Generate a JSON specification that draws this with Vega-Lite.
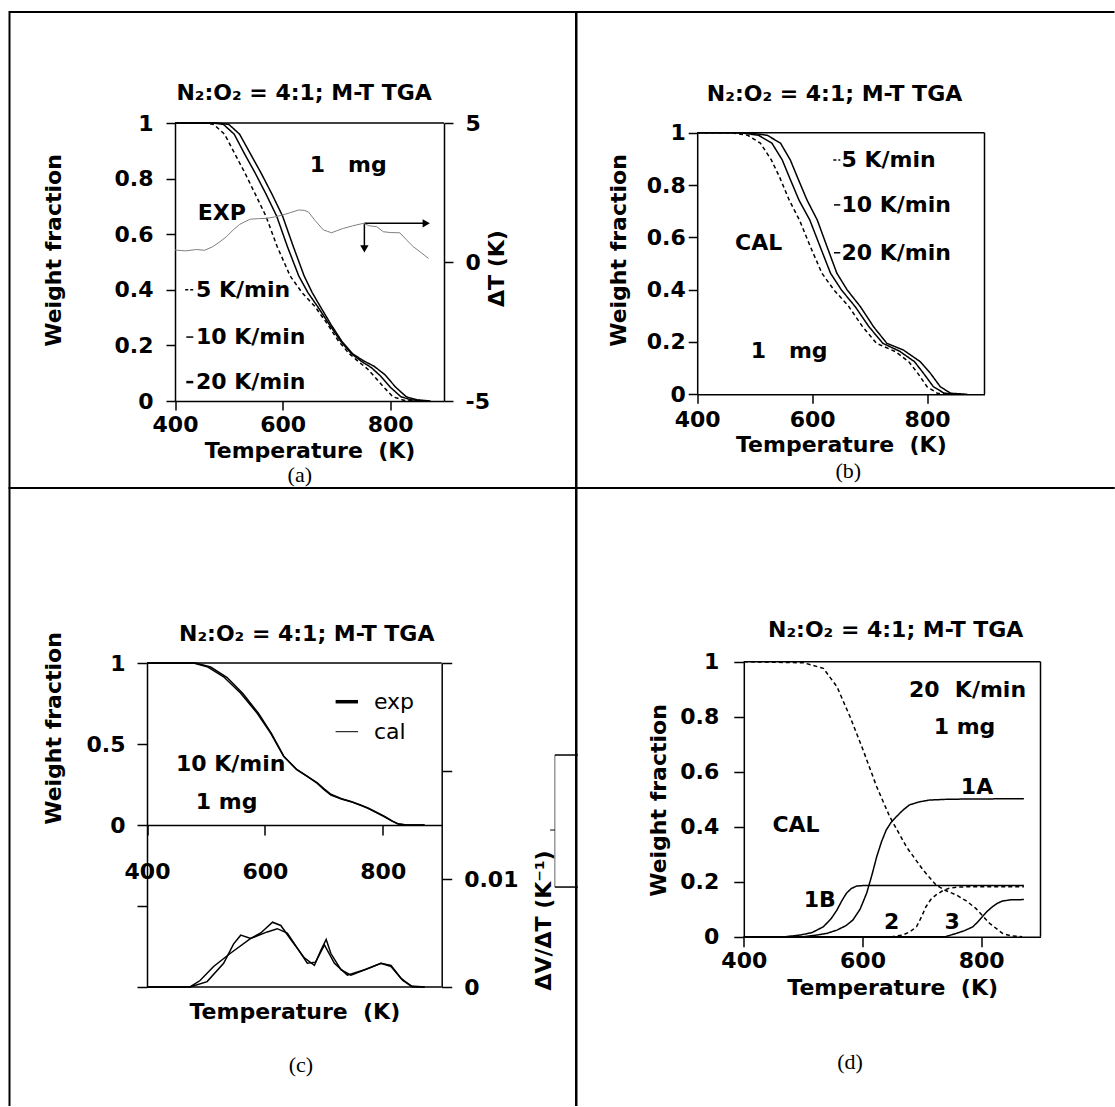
{
"$schema": "https://vega.github.io/schema/vega-lite/v6.json",
"padding": {"left": 8.5, "top": 11, "right": 0, "bottom": 0},
"columns": 2, "spacing": 0, "bounds": "flush",
"config": {
  "font": "DejaVu Sans",
  "view": {"stroke": null},
  "axis": {"grid": false, "domainColor": "black", "domainWidth": 1.5, "tickColor": "black", "tickWidth": 1.5, "tickSize": 9,
    "labelColor": "black", "labelFont": "DejaVu Sans", "labelFontSize": 22, "labelFontWeight": "bold", "labelFlush": false, "labelOverlap": false, "labelBound": false,
    "titleColor": "black", "titleFont": "DejaVu Sans", "titleFontSize": 22, "titleFontWeight": "bold", "titleAlign": "center", "titleBaseline": "middle"},
  "text": {"font": "DejaVu Sans", "fontSize": 22, "fontWeight": "bold", "color": "black", "align": "center", "baseline": "middle"},
  "line": {"color": "black"},
  "rule": {"color": "black", "strokeWidth": 1.5}
},
"datasets": {
  "a_tga": [
    {"rate":"20 K/min","T":400,"W":1},{"rate":"20 K/min","T":480,"W":1},{"rate":"20 K/min","T":500,"W":0.995},{"rate":"20 K/min","T":520,"W":0.96},{"rate":"20 K/min","T":540,"W":0.89},{"rate":"20 K/min","T":560,"W":0.82},{"rate":"20 K/min","T":580,"W":0.745},{"rate":"20 K/min","T":600,"W":0.665},{"rate":"20 K/min","T":620,"W":0.555},{"rate":"20 K/min","T":640,"W":0.45},{"rate":"20 K/min","T":655,"W":0.39},{"rate":"20 K/min","T":670,"W":0.34},{"rate":"20 K/min","T":690,"W":0.275},{"rate":"20 K/min","T":710,"W":0.215},{"rate":"20 K/min","T":730,"W":0.17},{"rate":"20 K/min","T":750,"W":0.145},{"rate":"20 K/min","T":770,"W":0.125},{"rate":"20 K/min","T":790,"W":0.095},{"rate":"20 K/min","T":810,"W":0.05},{"rate":"20 K/min","T":830,"W":0.015},{"rate":"20 K/min","T":850,"W":0.004},{"rate":"20 K/min","T":875,"W":0},
    {"rate":"10 K/min","T":400,"W":1},{"rate":"10 K/min","T":470,"W":1},{"rate":"10 K/min","T":490,"W":0.995},{"rate":"10 K/min","T":510,"W":0.96},{"rate":"10 K/min","T":529,"W":0.89},{"rate":"10 K/min","T":549,"W":0.82},{"rate":"10 K/min","T":569,"W":0.745},{"rate":"10 K/min","T":589,"W":0.665},{"rate":"10 K/min","T":609,"W":0.555},{"rate":"10 K/min","T":630,"W":0.45},{"rate":"10 K/min","T":647,"W":0.39},{"rate":"10 K/min","T":665,"W":0.34},{"rate":"10 K/min","T":687,"W":0.275},{"rate":"10 K/min","T":708,"W":0.215},{"rate":"10 K/min","T":728,"W":0.17},{"rate":"10 K/min","T":747,"W":0.142},{"rate":"10 K/min","T":765,"W":0.12},{"rate":"10 K/min","T":782,"W":0.09},{"rate":"10 K/min","T":800,"W":0.05},{"rate":"10 K/min","T":820,"W":0.015},{"rate":"10 K/min","T":840,"W":0.004},{"rate":"10 K/min","T":865,"W":0},
    {"rate":"5 K/min","T":400,"W":1},{"rate":"5 K/min","T":455,"W":1},{"rate":"5 K/min","T":472,"W":0.995},{"rate":"5 K/min","T":492,"W":0.96},{"rate":"5 K/min","T":511,"W":0.89},{"rate":"5 K/min","T":530,"W":0.82},{"rate":"5 K/min","T":549,"W":0.745},{"rate":"5 K/min","T":569,"W":0.665},{"rate":"5 K/min","T":590,"W":0.555},{"rate":"5 K/min","T":614,"W":0.45},{"rate":"5 K/min","T":636,"W":0.39},{"rate":"5 K/min","T":660,"W":0.34},{"rate":"5 K/min","T":684,"W":0.275},{"rate":"5 K/min","T":704,"W":0.215},{"rate":"5 K/min","T":724,"W":0.17},{"rate":"5 K/min","T":742,"W":0.14},{"rate":"5 K/min","T":758,"W":0.115},{"rate":"5 K/min","T":772,"W":0.085},{"rate":"5 K/min","T":788,"W":0.05},{"rate":"5 K/min","T":805,"W":0.015},{"rate":"5 K/min","T":825,"W":0.003},{"rate":"5 K/min","T":850,"W":0}
  ],
  "a_dt": [
    {"T":400,"dT":0.43},{"T":420,"dT":0.4},{"T":440,"dT":0.45},{"T":455,"dT":0.42},{"T":470,"dT":0.55},{"T":480,"dT":0.68},{"T":495,"dT":0.9},{"T":508,"dT":1.15},{"T":520,"dT":1.35},{"T":530,"dT":1.45},{"T":540,"dT":1.54},{"T":555,"dT":1.56},{"T":570,"dT":1.57},{"T":585,"dT":1.62},{"T":600,"dT":1.69},{"T":615,"dT":1.78},{"T":630,"dT":1.87},{"T":640,"dT":1.86},{"T":648,"dT":1.8},{"T":660,"dT":1.5},{"T":676,"dT":1.15},{"T":684,"dT":1.1},{"T":691,"dT":1.05},{"T":700,"dT":1.12},{"T":713,"dT":1.21},{"T":730,"dT":1.3},{"T":750,"dT":1.39},{"T":762,"dT":1.3},{"T":775,"dT":1.27},{"T":787,"dT":1.09},{"T":800,"dT":1.06},{"T":818,"dT":1.05},{"T":830,"dT":0.8},{"T":843,"dT":0.55},{"T":858,"dT":0.33},{"T":871,"dT":0.13}
  ],
  "b_tga": [
    {"rate":"20 K/min","T":400,"W":1},{"rate":"20 K/min","T":470,"W":1},{"rate":"20 K/min","T":493,"W":0.999},{"rate":"20 K/min","T":522,"W":0.99},{"rate":"20 K/min","T":545,"W":0.96},{"rate":"20 K/min","T":562,"W":0.896},{"rate":"20 K/min","T":574,"W":0.832},{"rate":"20 K/min","T":591,"W":0.743},{"rate":"20 K/min","T":609,"W":0.666},{"rate":"20 K/min","T":626,"W":0.564},{"rate":"20 K/min","T":643,"W":0.463},{"rate":"20 K/min","T":661,"W":0.399},{"rate":"20 K/min","T":684,"W":0.335},{"rate":"20 K/min","T":707,"W":0.258},{"rate":"20 K/min","T":730,"W":0.195},{"rate":"20 K/min","T":759,"W":0.169},{"rate":"20 K/min","T":788,"W":0.125},{"rate":"20 K/min","T":806,"W":0.08},{"rate":"20 K/min","T":823,"W":0.029},{"rate":"20 K/min","T":841,"W":0.004},{"rate":"20 K/min","T":870,"W":0},
    {"rate":"10 K/min","T":400,"W":1},{"rate":"10 K/min","T":460,"W":1},{"rate":"10 K/min","T":478,"W":0.999},{"rate":"10 K/min","T":507,"W":0.99},{"rate":"10 K/min","T":530,"W":0.96},{"rate":"10 K/min","T":548,"W":0.896},{"rate":"10 K/min","T":560,"W":0.832},{"rate":"10 K/min","T":577,"W":0.743},{"rate":"10 K/min","T":596,"W":0.666},{"rate":"10 K/min","T":614,"W":0.564},{"rate":"10 K/min","T":632,"W":0.463},{"rate":"10 K/min","T":651,"W":0.399},{"rate":"10 K/min","T":675,"W":0.335},{"rate":"10 K/min","T":699,"W":0.258},{"rate":"10 K/min","T":723,"W":0.195},{"rate":"10 K/min","T":752,"W":0.165},{"rate":"10 K/min","T":778,"W":0.125},{"rate":"10 K/min","T":794,"W":0.08},{"rate":"10 K/min","T":811,"W":0.029},{"rate":"10 K/min","T":830,"W":0.004},{"rate":"10 K/min","T":860,"W":0},
    {"rate":"5 K/min","T":400,"W":1},{"rate":"5 K/min","T":445,"W":1},{"rate":"5 K/min","T":462,"W":0.999},{"rate":"5 K/min","T":488,"W":0.99},{"rate":"5 K/min","T":510,"W":0.96},{"rate":"5 K/min","T":529,"W":0.896},{"rate":"5 K/min","T":543,"W":0.832},{"rate":"5 K/min","T":560,"W":0.743},{"rate":"5 K/min","T":578,"W":0.666},{"rate":"5 K/min","T":597,"W":0.564},{"rate":"5 K/min","T":617,"W":0.463},{"rate":"5 K/min","T":638,"W":0.399},{"rate":"5 K/min","T":664,"W":0.335},{"rate":"5 K/min","T":688,"W":0.258},{"rate":"5 K/min","T":712,"W":0.195},{"rate":"5 K/min","T":745,"W":0.163},{"rate":"5 K/min","T":768,"W":0.125},{"rate":"5 K/min","T":784,"W":0.08},{"rate":"5 K/min","T":800,"W":0.029},{"rate":"5 K/min","T":818,"W":0.004},{"rate":"5 K/min","T":850,"W":0}
  ],
  "c_tga": [
    {"src":"exp","T":400,"W":1},{"src":"exp","T":479,"W":1},{"src":"exp","T":502,"W":0.977},{"src":"exp","T":530,"W":0.915},{"src":"exp","T":559,"W":0.813},{"src":"exp","T":587,"W":0.69},{"src":"exp","T":610,"W":0.566},{"src":"exp","T":632,"W":0.422},{"src":"exp","T":655,"W":0.34},{"src":"exp","T":672,"W":0.3},{"src":"exp","T":689,"W":0.257},{"src":"exp","T":700,"W":0.22},{"src":"exp","T":712,"W":0.185},{"src":"exp","T":730,"W":0.16},{"src":"exp","T":746,"W":0.144},{"src":"exp","T":760,"W":0.125},{"src":"exp","T":775,"W":0.103},{"src":"exp","T":790,"W":0.075},{"src":"exp","T":803,"W":0.051},{"src":"exp","T":815,"W":0.025},{"src":"exp","T":826,"W":0.006},{"src":"exp","T":840,"W":0},{"src":"exp","T":871,"W":0},
    {"src":"cal","T":400,"W":1},{"src":"cal","T":482,"W":1},{"src":"cal","T":508,"W":0.975},{"src":"cal","T":536,"W":0.91},{"src":"cal","T":563,"W":0.81},{"src":"cal","T":589,"W":0.69},{"src":"cal","T":611,"W":0.566},{"src":"cal","T":632,"W":0.425},{"src":"cal","T":653,"W":0.345},{"src":"cal","T":670,"W":0.305},{"src":"cal","T":689,"W":0.26},{"src":"cal","T":700,"W":0.225},{"src":"cal","T":712,"W":0.19},{"src":"cal","T":730,"W":0.162},{"src":"cal","T":746,"W":0.145},{"src":"cal","T":760,"W":0.127},{"src":"cal","T":775,"W":0.105},{"src":"cal","T":790,"W":0.077},{"src":"cal","T":803,"W":0.053},{"src":"cal","T":815,"W":0.027},{"src":"cal","T":826,"W":0.007},{"src":"cal","T":840,"W":0},{"src":"cal","T":871,"W":0}
  ],
  "c_dtg": [
    {"src":"exp","T":400,"V":0},{"src":"exp","T":473,"V":0},{"src":"exp","T":490,"V":0.0006},{"src":"exp","T":513,"V":0.0019},{"src":"exp","T":541,"V":0.0031},{"src":"exp","T":576,"V":0.0045},{"src":"exp","T":604,"V":0.0051},{"src":"exp","T":621,"V":0.0054},{"src":"exp","T":638,"V":0.005},{"src":"exp","T":655,"V":0.0036},{"src":"exp","T":672,"V":0.0022},{"src":"exp","T":686,"V":0.0023},{"src":"exp","T":701,"V":0.0039},{"src":"exp","T":718,"V":0.0022},{"src":"exp","T":740,"V":0.0011},{"src":"exp","T":769,"V":0.0016},{"src":"exp","T":797,"V":0.0022},{"src":"exp","T":814,"V":0.0019},{"src":"exp","T":831,"V":0.0008},{"src":"exp","T":848,"V":0.0001},{"src":"exp","T":871,"V":0},
    {"src":"cal","T":400,"V":0},{"src":"cal","T":473,"V":0},{"src":"cal","T":502,"V":0.0005},{"src":"cal","T":530,"V":0.0022},{"src":"cal","T":547,"V":0.004},{"src":"cal","T":559,"V":0.0048},{"src":"cal","T":576,"V":0.0045},{"src":"cal","T":593,"V":0.005},{"src":"cal","T":613,"V":0.006},{"src":"cal","T":627,"V":0.0057},{"src":"cal","T":644,"V":0.0044},{"src":"cal","T":667,"V":0.0027},{"src":"cal","T":684,"V":0.002},{"src":"cal","T":695,"V":0.0034},{"src":"cal","T":704,"V":0.0044},{"src":"cal","T":712,"V":0.0031},{"src":"cal","T":729,"V":0.0016},{"src":"cal","T":746,"V":0.0011},{"src":"cal","T":775,"V":0.0017},{"src":"cal","T":797,"V":0.0022},{"src":"cal","T":814,"V":0.002},{"src":"cal","T":834,"V":0.0006},{"src":"cal","T":851,"V":0},{"src":"cal","T":871,"V":0}
  ],
  "d_cal": [
    {"comp":"total","T":400,"W":1},{"comp":"total","T":501,"W":0.996},{"comp":"total","T":534,"W":0.976},{"comp":"total","T":557,"W":0.909},{"comp":"total","T":579,"W":0.8},{"comp":"total","T":601,"W":0.679},{"comp":"total","T":624,"W":0.545},{"comp":"total","T":646,"W":0.436},{"comp":"total","T":674,"W":0.327},{"comp":"total","T":702,"W":0.243},{"comp":"total","T":724,"W":0.188},{"comp":"total","T":740,"W":0.168},{"comp":"total","T":758,"W":0.152},{"comp":"total","T":775,"W":0.13},{"comp":"total","T":791,"W":0.103},{"comp":"total","T":814,"W":0.049},{"comp":"total","T":836,"W":0.012},{"comp":"total","T":850,"W":0.003},{"comp":"total","T":869,"W":0},
    {"comp":"1A","T":400,"W":0},{"comp":"1A","T":500,"W":0},{"comp":"1A","T":523,"W":0.006},{"comp":"1A","T":540,"W":0.012},{"comp":"1A","T":557,"W":0.024},{"comp":"1A","T":572,"W":0.04},{"comp":"1A","T":584,"W":0.061},{"comp":"1A","T":596,"W":0.1},{"comp":"1A","T":607,"W":0.158},{"comp":"1A","T":616,"W":0.225},{"comp":"1A","T":624,"W":0.291},{"comp":"1A","T":632,"W":0.345},{"comp":"1A","T":640,"W":0.388},{"comp":"1A","T":648,"W":0.415},{"comp":"1A","T":657,"W":0.436},{"comp":"1A","T":668,"W":0.46},{"comp":"1A","T":679,"W":0.479},{"comp":"1A","T":695,"W":0.49},{"comp":"1A","T":713,"W":0.497},{"comp":"1A","T":746,"W":0.5},{"comp":"1A","T":872,"W":0.502},
    {"comp":"1B","T":400,"W":0},{"comp":"1B","T":470,"W":0},{"comp":"1B","T":495,"W":0.006},{"comp":"1B","T":515,"W":0.015},{"comp":"1B","T":534,"W":0.036},{"comp":"1B","T":547,"W":0.065},{"comp":"1B","T":557,"W":0.097},{"comp":"1B","T":565,"W":0.13},{"comp":"1B","T":573,"W":0.158},{"comp":"1B","T":581,"W":0.175},{"comp":"1B","T":590,"W":0.184},{"comp":"1B","T":602,"W":0.186},{"comp":"1B","T":872,"W":0.186},
    {"comp":"2","T":400,"W":0},{"comp":"2","T":650,"W":0},{"comp":"2","T":668,"W":0.006},{"comp":"2","T":680,"W":0.018},{"comp":"2","T":691,"W":0.036},{"comp":"2","T":699,"W":0.07},{"comp":"2","T":707,"W":0.109},{"comp":"2","T":715,"W":0.135},{"comp":"2","T":724,"W":0.152},{"comp":"2","T":735,"W":0.167},{"comp":"2","T":746,"W":0.176},{"comp":"2","T":760,"W":0.18},{"comp":"2","T":780,"W":0.182},{"comp":"2","T":872,"W":0.182},
    {"comp":"3","T":400,"W":0},{"comp":"3","T":740,"W":0},{"comp":"3","T":758,"W":0.012},{"comp":"3","T":772,"W":0.022},{"comp":"3","T":786,"W":0.036},{"comp":"3","T":794,"W":0.053},{"comp":"3","T":802,"W":0.073},{"comp":"3","T":810,"W":0.092},{"comp":"3","T":819,"W":0.109},{"comp":"3","T":827,"W":0.121},{"comp":"3","T":836,"W":0.13},{"comp":"3","T":850,"W":0.134},{"comp":"3","T":872,"W":0.135}
  ]
},
"concat": [
{
  "width": 566.5, "height": 476,
  "view": {"stroke": "black", "strokeWidth": 2},
  "resolve": {"scale": {"y": "independent"}},
  "layer": [
    {"layer": [
      {"data": {"name": "a_tga"}, "mark": {"type": "line"},
       "encoding": {
        "x": {"field": "T", "type": "quantitative", "scale": {"domain": [400, 900], "range": [165.5, 434.5], "nice": false, "zero": false},
              "axis": {"values": [400, 600, 800], "offset": -87, "labelPadding": 4, "title": "Temperature\u00a0 (K)", "titleY": 49}},
        "y": {"field": "W", "type": "quantitative", "scale": {"domain": [0, 1], "range": [389, 111], "nice": false, "zero": false},
              "axis": {"orient": "left", "values": [0, 0.2, 0.4, 0.6, 0.8, 1], "format": ".1~f", "offset": -165.5, "labelPadding": 13, "title": "Weight fraction", "titleX": -122, "titleY": 238}},
        "detail": {"field": "rate"},
        "strokeDash": {"field": "rate", "type": "nominal", "scale": {"domain": ["5 K/min", "10 K/min", "20 K/min"], "range": [[4, 3], [1, 0], [1, 0]]}, "legend": null},
        "strokeWidth": {"field": "rate", "type": "ordinal", "scale": {"domain": ["5 K/min", "10 K/min", "20 K/min"], "range": [1.5, 1.5, 3]}, "legend": null}
       }},
      {"data": {"values": [{}]}, "mark": {"type": "rule"}, "encoding": {"x": {"datum": 400}, "x2": {"datum": 900}, "y": {"datum": 1}}},
      {"data": {"values": [{}]}, "mark": {"type": "text"}, "encoding": {"x": {"datum": 640}, "y": {"datum": 1.108}, "text": {"value": "N\u2082:O\u2082 = 4:1; M-T TGA"}}},
      {"data": {"values": [{}]}, "mark": {"type": "text"}, "encoding": {"x": {"datum": 722}, "y": {"datum": 0.849}, "text": {"value": "1\u00a0\u00a0\u00a0mg"}}},
      {"data": {"values": [{}]}, "mark": {"type": "text"}, "encoding": {"x": {"datum": 487}, "y": {"datum": 0.676}, "text": {"value": "EXP"}}},
      {"data": {"values": [{}]}, "mark": {"type": "text", "align": "left"}, "encoding": {"x": {"datum": 439}, "y": {"datum": 0.40}, "text": {"value": "5 K/min"}}},
      {"data": {"values": [{}]}, "mark": {"type": "text", "align": "left"}, "encoding": {"x": {"datum": 439}, "y": {"datum": 0.23}, "text": {"value": "10 K/min"}}},
      {"data": {"values": [{}]}, "mark": {"type": "text", "align": "left"}, "encoding": {"x": {"datum": 439}, "y": {"datum": 0.068}, "text": {"value": "20 K/min"}}},
      {"data": {"values": [{}]}, "mark": {"type": "rule", "strokeDash": [3, 2]}, "encoding": {"x": {"datum": 419}, "x2": {"datum": 434}, "y": {"datum": 0.40}}},
      {"data": {"values": [{}]}, "mark": {"type": "rule"}, "encoding": {"x": {"datum": 421}, "x2": {"datum": 434}, "y": {"datum": 0.23}}},
      {"data": {"values": [{}]}, "mark": {"type": "rule", "strokeWidth": 2.5}, "encoding": {"x": {"datum": 421}, "x2": {"datum": 434}, "y": {"datum": 0.068}}},
      {"data": {"values": [{}]}, "mark": {"type": "rule"}, "encoding": {"x": {"datum": 752}, "x2": {"datum": 866}, "y": {"datum": 0.639}}},
      {"data": {"values": [{}]}, "mark": {"type": "rule"}, "encoding": {"x": {"datum": 752}, "y": {"datum": 0.639}, "y2": {"datum": 0.55}}},
      {"data": {"values": [{}]}, "mark": {"type": "point", "shape": "triangle-right", "filled": true, "size": 70, "color": "black", "opacity": 1}, "encoding": {"x": {"datum": 867}, "y": {"datum": 0.639}}},
      {"data": {"values": [{}]}, "mark": {"type": "point", "shape": "triangle-down", "filled": true, "size": 70, "color": "black", "opacity": 1}, "encoding": {"x": {"datum": 752}, "y": {"datum": 0.547}}},
      {"data": {"values": [{}]}, "mark": {"type": "text", "font": "Liberation Serif", "fontWeight": "normal", "fontSize": 22}, "encoding": {"x": {"datum": 632}, "y": {"datum": -0.265}, "text": {"value": "(a)"}}}
    ]},
    {"data": {"name": "a_dt"}, "mark": {"type": "line", "color": "#808080", "strokeWidth": 1},
     "encoding": {
      "x": {"field": "T", "type": "quantitative", "scale": {"domain": [400, 900], "range": [165.5, 434.5], "nice": false, "zero": false}},
      "y": {"field": "dT", "type": "quantitative", "scale": {"domain": [-5, 5], "range": [389, 111], "nice": false, "zero": false},
            "axis": {"orient": "right", "values": [-5, 0, 5], "offset": -132, "labelPadding": 12, "labelExpr": "replace(datum.label, '\u2212', '-')", "title": "\u0394T (K)", "titleAngle": 270, "titleX": 52, "titleY": 256}}
     }}
  ]
},
{
  "width": 538, "height": 476,
  "view": {"stroke": "black", "strokeWidth": 2, "strokeDash": [538, 476, 1100, 0]},
  "layer": [
    {"data": {"name": "b_tga"}, "mark": {"type": "line"},
     "encoding": {
      "x": {"field": "T", "type": "quantitative", "scale": {"domain": [400, 900], "range": [120.7, 408], "nice": false, "zero": false},
            "axis": {"values": [400, 600, 800], "offset": -93.7, "labelPadding": 6, "title": "Temperature\u00a0 (K)", "titleY": 50}},
      "y": {"field": "W", "type": "quantitative", "scale": {"domain": [0, 1], "range": [382.3, 120.7], "nice": false, "zero": false},
            "axis": {"orient": "left", "values": [0, 0.2, 0.4, 0.6, 0.8, 1], "format": ".1~f", "offset": -120.7, "labelPadding": 3, "title": "Weight fraction", "titleX": -79, "titleY": 238}},
      "detail": {"field": "rate"},
      "strokeDash": {"field": "rate", "type": "nominal", "scale": {"domain": ["5 K/min", "10 K/min", "20 K/min"], "range": [[4, 3], [1, 0], [1, 0]]}, "legend": null},
      "strokeWidth": {"field": "rate", "type": "ordinal", "scale": {"domain": ["5 K/min", "10 K/min", "20 K/min"], "range": [1.5, 1.5, 3]}, "legend": null}
     }},
    {"data": {"values": [{}]}, "mark": {"type": "rule"}, "encoding": {"x": {"datum": 400}, "x2": {"datum": 900}, "y": {"datum": 1}}},
    {"data": {"values": [{}]}, "mark": {"type": "rule"}, "encoding": {"x": {"datum": 900}, "y": {"datum": 0}, "y2": {"datum": 1}}},
    {"data": {"values": [{}]}, "mark": {"type": "text"}, "encoding": {"x": {"datum": 639}, "y": {"datum": 1.148}, "text": {"value": "N\u2082:O\u2082 = 4:1; M-T TGA"}}},
    {"data": {"values": [{}]}, "mark": {"type": "text", "align": "left"}, "encoding": {"x": {"datum": 651}, "y": {"datum": 0.896}, "text": {"value": "5 K/min"}}},
    {"data": {"values": [{}]}, "mark": {"type": "text", "align": "left"}, "encoding": {"x": {"datum": 651}, "y": {"datum": 0.724}, "text": {"value": "10 K/min"}}},
    {"data": {"values": [{}]}, "mark": {"type": "text", "align": "left"}, "encoding": {"x": {"datum": 651}, "y": {"datum": 0.541}, "text": {"value": "20 K/min"}}},
    {"data": {"values": [{}]}, "mark": {"type": "rule", "strokeDash": [3, 2]}, "encoding": {"x": {"datum": 637}, "x2": {"datum": 649}, "y": {"datum": 0.896}}},
    {"data": {"values": [{}]}, "mark": {"type": "rule"}, "encoding": {"x": {"datum": 638}, "x2": {"datum": 649}, "y": {"datum": 0.724}}},
    {"data": {"values": [{}]}, "mark": {"type": "rule"}, "encoding": {"x": {"datum": 638}, "x2": {"datum": 649}, "y": {"datum": 0.541}}},
    {"data": {"values": [{}]}, "mark": {"type": "text"}, "encoding": {"x": {"datum": 507}, "y": {"datum": 0.577}, "text": {"value": "CAL"}}},
    {"data": {"values": [{}]}, "mark": {"type": "text"}, "encoding": {"x": {"datum": 560}, "y": {"datum": 0.167}, "text": {"value": "1\u00a0\u00a0\u00a0mg"}}},
    {"data": {"values": [{}]}, "mark": {"type": "text", "font": "Liberation Serif", "fontWeight": "normal", "fontSize": 22}, "encoding": {"x": {"datum": 663}, "y": {"datum": -0.295}, "text": {"value": "(b)"}}}
  ]
},
{
  "width": 566.5, "height": 618,
  "view": {"stroke": "black", "strokeWidth": 2, "strokeDash": [1184.5, 566.5, 700, 0]},
  "resolve": {"scale": {"y": "independent"}},
  "layer": [
    {"layer": [
      {"data": {"name": "c_tga"}, "mark": {"type": "line"},
       "encoding": {
        "x": {"field": "T", "type": "quantitative", "scale": {"domain": [400, 900], "range": [137.5, 432.2], "nice": false, "zero": false},
              "axis": {"values": [400, 600, 800], "offset": -281, "tickSize": 10, "labelPadding": 26, "title": "Temperature\u00a0 (K)", "titleY": 186}},
        "y": {"field": "W", "type": "quantitative", "scale": {"domain": [-1, 1], "range": [499, 175], "nice": false, "zero": false},
              "axis": {"orient": "left", "values": [-1, -0.5, 0, 0.5, 1], "format": ".1~f", "labelExpr": "datum.value < 0 ? '' : datum.label", "offset": -137.5, "tickSize": 10, "labelPadding": 12, "title": "Weight fraction", "titleX": -94, "titleY": 240}},
        "detail": {"field": "src"},
        "strokeWidth": {"field": "src", "type": "nominal", "scale": {"domain": ["exp", "cal"], "range": [3, 1.5]}, "legend": null}
       }},
      {"data": {"values": [{}]}, "mark": {"type": "rule"}, "encoding": {"x": {"datum": 400}, "x2": {"datum": 900}, "y": {"datum": 1}}},
      {"data": {"values": [{}]}, "mark": {"type": "rule"}, "encoding": {"x": {"datum": 400}, "x2": {"datum": 900}, "y": {"datum": -1}}},
      {"data": {"values": [{}]}, "mark": {"type": "text"}, "encoding": {"x": {"datum": 671}, "y": {"datum": 1.179}, "text": {"value": "N\u2082:O\u2082 = 4:1; M-T TGA"}}},
      {"data": {"values": [{}]}, "mark": {"type": "text"}, "encoding": {"x": {"datum": 542}, "y": {"datum": 0.377}, "text": {"value": "10 K/min"}}},
      {"data": {"values": [{}]}, "mark": {"type": "text"}, "encoding": {"x": {"datum": 535}, "y": {"datum": 0.142}, "text": {"value": "1 mg"}}},
      {"data": {"values": [{}]}, "mark": {"type": "rule", "strokeWidth": 3.5}, "encoding": {"x": {"datum": 720}, "x2": {"datum": 758}, "y": {"datum": 0.761}}},
      {"data": {"values": [{}]}, "mark": {"type": "rule", "strokeWidth": 1}, "encoding": {"x": {"datum": 720}, "x2": {"datum": 758}, "y": {"datum": 0.576}}},
      {"data": {"values": [{}]}, "mark": {"type": "text", "align": "left", "fontWeight": "normal"}, "encoding": {"x": {"datum": 785}, "y": {"datum": 0.761}, "text": {"value": "exp"}}},
      {"data": {"values": [{}]}, "mark": {"type": "text", "align": "left", "fontWeight": "normal"}, "encoding": {"x": {"datum": 785}, "y": {"datum": 0.576}, "text": {"value": "cal"}}},
      {"data": {"values": [{}]}, "mark": {"type": "rule", "strokeWidth": 1, "color": "#666666"}, "encoding": {"x": {"datum": 1092}, "y": {"datum": 0.432}, "y2": {"datum": -0.383}}},
      {"data": {"values": [{}]}, "mark": {"type": "rule", "strokeWidth": 1.5}, "encoding": {"x": {"datum": 1092}, "x2": {"datum": 1131}, "y": {"datum": 0.432}}},
      {"data": {"values": [{}]}, "mark": {"type": "rule", "strokeWidth": 1.5}, "encoding": {"x": {"datum": 1092}, "x2": {"datum": 1131}, "y": {"datum": -0.383}}},
      {"data": {"values": [{}]}, "mark": {"type": "rule", "strokeWidth": 1}, "encoding": {"x": {"datum": 1084}, "x2": {"datum": 1092}, "y": {"datum": -0.031}}},
      {"data": {"values": [{}]}, "mark": {"type": "text", "font": "Liberation Serif", "fontWeight": "normal", "fontSize": 22}, "encoding": {"x": {"datum": 661}, "y": {"datum": -1.481}, "text": {"value": "(c)"}}}
    ]},
    {"data": {"name": "c_dtg"}, "mark": {"type": "line"},
     "encoding": {
      "x": {"field": "T", "type": "quantitative", "scale": {"domain": [400, 900], "range": [137.5, 432.2], "nice": false, "zero": false}},
      "y": {"field": "V", "type": "quantitative", "scale": {"domain": [0, 0.03], "range": [499, 175], "nice": false, "zero": false},
            "axis": {"orient": "right", "values": [0, 0.01, 0.02, 0.03], "format": ".2~f", "labelExpr": "datum.value > 0.015 ? '' : datum.label", "offset": -134.3, "tickSize": 10, "labelPadding": 12, "title": "\u0394V/\u0394T (K\u207b\u00b9)", "titleAngle": 270, "titleX": 102, "titleY": 432}},
      "detail": {"field": "src"},
      "strokeWidth": {"field": "src", "type": "nominal", "scale": {"domain": ["exp", "cal"], "range": [2.5, 1.8]}, "legend": null}
     }}
  ]
},
{
  "width": 538, "height": 618,
  "view": {"stroke": "black", "strokeWidth": 2, "strokeDash": [538, 1156, 700, 0]},
  "layer": [
    {"data": {"name": "d_cal"}, "mark": {"type": "line", "strokeWidth": 1.5},
     "encoding": {
      "x": {"field": "T", "type": "quantitative", "scale": {"domain": [400, 900], "range": [167.3, 464], "nice": false, "zero": false},
            "axis": {"values": [400, 600, 800], "offset": -169.3, "tickSize": 10, "labelPadding": 4, "title": "Temperature\u00a0 (K)", "titleY": 51}},
      "y": {"field": "W", "type": "quantitative", "scale": {"domain": [0, 1], "range": [448.7, 173.7], "nice": false, "zero": false},
            "axis": {"orient": "left", "values": [0, 0.2, 0.4, 0.6, 0.8, 1], "format": ".1~f", "offset": -167.3, "tickSize": 10, "labelPadding": 15, "title": "Weight fraction", "titleX": -85, "titleY": 312}},
      "detail": {"field": "comp"},
      "strokeDash": {"field": "comp", "type": "nominal", "scale": {"domain": ["total", "1A", "1B", "2", "3"], "range": [[12, 4], [1, 0], [1, 0], [1, 0], [1, 0]]}, "legend": null}
     }},
    {"data": {"values": [{}]}, "mark": {"type": "rule"}, "encoding": {"x": {"datum": 400}, "x2": {"datum": 900}, "y": {"datum": 1}}},
    {"data": {"values": [{}]}, "mark": {"type": "rule"}, "encoding": {"x": {"datum": 900}, "y": {"datum": 0}, "y2": {"datum": 1}}},
    {"data": {"values": [{}]}, "mark": {"type": "text"}, "encoding": {"x": {"datum": 656}, "y": {"datum": 1.115}, "text": {"value": "N\u2082:O\u2082 = 4:1; M-T TGA"}}},
    {"data": {"values": [{}]}, "mark": {"type": "text"}, "encoding": {"x": {"datum": 777}, "y": {"datum": 0.897}, "text": {"value": "20\u00a0 K/min"}}},
    {"data": {"values": [{}]}, "mark": {"type": "text"}, "encoding": {"x": {"datum": 772}, "y": {"datum": 0.764}, "text": {"value": "1 mg"}}},
    {"data": {"values": [{}]}, "mark": {"type": "text"}, "encoding": {"x": {"datum": 793}, "y": {"datum": 0.545}, "text": {"value": "1A"}}},
    {"data": {"values": [{}]}, "mark": {"type": "text"}, "encoding": {"x": {"datum": 488}, "y": {"datum": 0.407}, "text": {"value": "CAL"}}},
    {"data": {"values": [{}]}, "mark": {"type": "text"}, "encoding": {"x": {"datum": 528}, "y": {"datum": 0.134}, "text": {"value": "1B"}}},
    {"data": {"values": [{}]}, "mark": {"type": "text"}, "encoding": {"x": {"datum": 649}, "y": {"datum": 0.055}, "text": {"value": "2"}}},
    {"data": {"values": [{}]}, "mark": {"type": "text"}, "encoding": {"x": {"datum": 751}, "y": {"datum": 0.055}, "text": {"value": "3"}}},
    {"data": {"values": [{}]}, "mark": {"type": "text", "font": "Liberation Serif", "fontWeight": "normal", "fontSize": 22}, "encoding": {"x": {"datum": 579}, "y": {"datum": -0.456}, "text": {"value": "(d)"}}}
  ]
}
]
}
